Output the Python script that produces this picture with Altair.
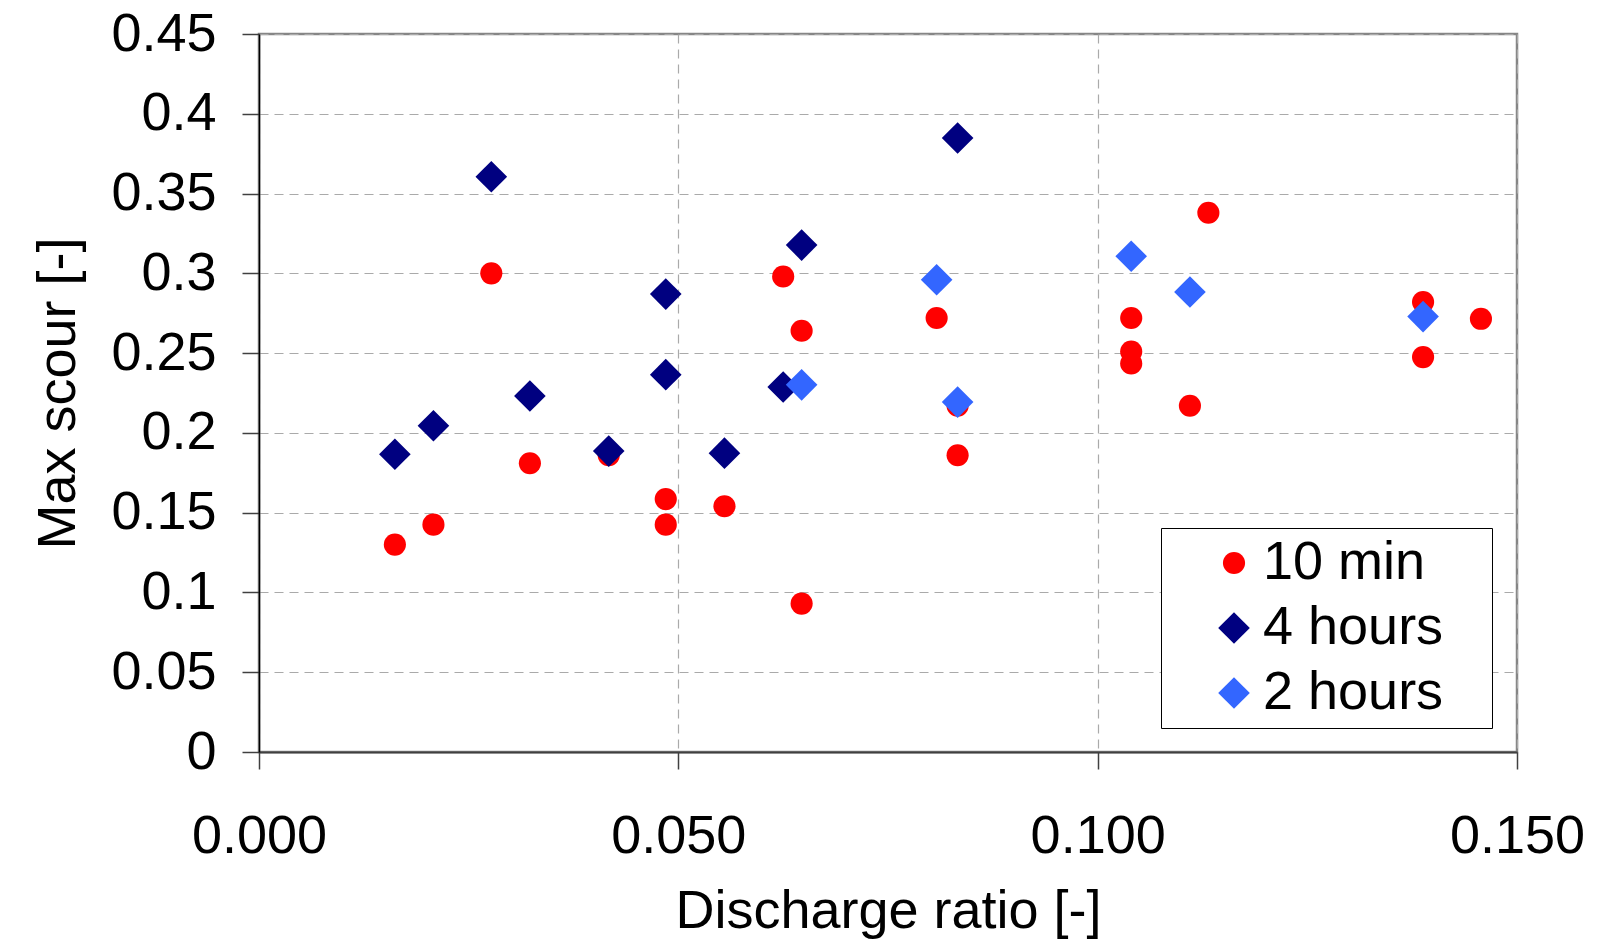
import altair as alt
import pandas as pd

series_names = ["10 min", "4 hours", "2 hours"]
series_colors = ["#FF0000", "#000080", "#3366FF"]
series_shapes = ["circle", "diamond", "diamond"]

min10_x = [0.0162, 0.0208, 0.0277, 0.0323, 0.0417, 0.0485, 0.0485, 0.0555, 0.0625, 0.0647, 0.0647,
           0.0808, 0.0833, 0.0833, 0.1040, 0.1040, 0.1040, 0.1110, 0.1132, 0.1388, 0.1388, 0.1457]
min10_y = [0.130, 0.1425, 0.300, 0.181, 0.186, 0.1585, 0.1425, 0.154, 0.298, 0.264, 0.093,
           0.272, 0.217, 0.186, 0.272, 0.251, 0.2435, 0.217, 0.338, 0.282, 0.2475, 0.2715]

h4_x = [0.0162, 0.0208, 0.0277, 0.0323, 0.0417, 0.0485, 0.0485, 0.0555, 0.0625, 0.0647, 0.0833]
h4_y = [0.1866, 0.2045, 0.3605, 0.2231, 0.1886, 0.287, 0.2365, 0.1873, 0.2288, 0.3177, 0.3848]

h2_x = [0.0647, 0.0808, 0.0833, 0.1040, 0.1110, 0.1388]
h2_y = [0.2301, 0.296, 0.2193, 0.3107, 0.2883, 0.2729]

x_ticks = [0.0, 0.05, 0.1, 0.15]
y_ticks = [0.0, 0.05, 0.1, 0.15, 0.2, 0.25, 0.3, 0.35, 0.4, 0.45]

rows = []
for name, xs, ys in [("10 min", min10_x, min10_y), ("4 hours", h4_x, h4_y), ("2 hours", h2_x, h2_y)]:
    for xv, yv in zip(xs, ys):
        rows.append({"ratio": xv, "scour": yv, "series": name})
df = pd.DataFrame(rows)

FONT = "Liberation Sans"


def legend():
    return alt.Legend(orient="none", legendX=902, legendY=494, title=None,
                      labelFontSize=54, labelFont=FONT, labelColor="black",
                      labelLimit=600, padding=8, rowPadding=11,
                      strokeColor="black", fillColor="white",
                      cornerRadius=0, symbolOffset=38, labelOffset=2,
                      labelExpr="datum.label + '\u2800'")


chart = alt.Chart(df).mark_point(filled=True, opacity=1).encode(
    x=alt.X("ratio:Q",
            scale=alt.Scale(domain=[0, 0.15], nice=False),
            axis=alt.Axis(values=x_ticks, format=".3f", title="Discharge ratio [-]",
                          tickSize=17, tickColor="#404040", tickWidth=1.5,
                          labelFontSize=54, labelFont=FONT, labelColor="black",
                          labelBaseline="alphabetic", labelPadding=83, labelFlush=False,
                          grid=True, gridDash=[9, 6], gridColor="#aaaaaa", gridWidth=1.2,
                          domainColor="#404040", domainWidth=2,
                          titleFontSize=54, titleFont=FONT, titleFontWeight="normal",
                          titleColor="black", titleX=629, titleY=175,
                          titleBaseline="alphabetic")),
    y=alt.Y("scour:Q",
            scale=alt.Scale(domain=[0, 0.45], nice=False),
            axis=alt.Axis(values=y_ticks, format="~g", title="Max scour [-]",
                          tickSize=17, tickColor="#404040", tickWidth=1.5,
                          labelFontSize=54, labelFont=FONT, labelColor="black",
                          labelPadding=26, labelFlush=False,
                          grid=True, gridDash=[9, 6], gridColor="#aaaaaa", gridWidth=1.2,
                          domainColor="black", domainWidth=1.5,
                          titleFontSize=54, titleFont=FONT, titleFontWeight="normal",
                          titleColor="black", titleX=-185, titleY=359,
                          titleBaseline="alphabetic", titleAngle=270)),
    color=alt.Color("series:N",
                    scale=alt.Scale(domain=series_names, range=series_colors),
                    sort=series_names, legend=legend()),
    shape=alt.Shape("series:N",
                    scale=alt.Scale(domain=series_names, range=series_shapes),
                    sort=series_names, legend=legend()),
    size=alt.Size("series:N",
                  scale=alt.Scale(type="ordinal", domain=series_names, range=[490, 1000, 1000]),
                  sort=series_names, legend=legend()),
).properties(
    width=1258, height=718,
    autosize=alt.AutoSizeParams(type="none"),
    padding={"left": 251, "top": 26, "right": 70, "bottom": 188},
    background="white",
).configure_view(
    stroke="#868686", strokeWidth=2.5
)

chart.save("out.html", embed_options={"renderer": "svg", "actions": False})
